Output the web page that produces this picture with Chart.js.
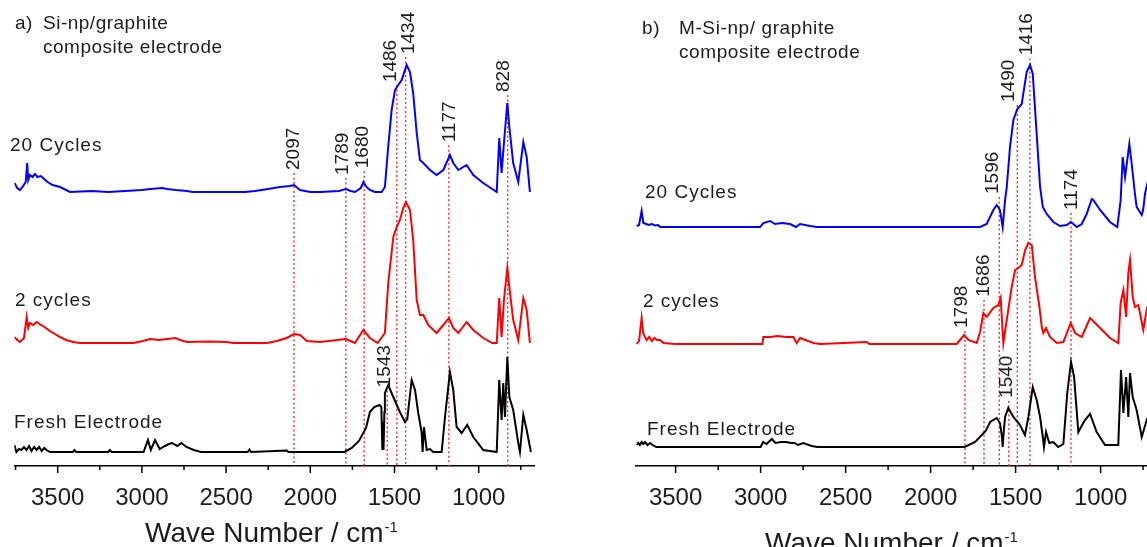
<!DOCTYPE html>
<html>
<head>
<meta charset="utf-8">
<title>FTIR spectra of Si-np/graphite electrodes</title>
<script src="https://cdn.jsdelivr.net/npm/chart.js@4.4.1/dist/chart.umd.min.js"></script>
<style>
  html, body { margin: 0; padding: 0; background: #fff; overflow: hidden; }
  #wrap { position: relative; width: 1147px; height: 547px; overflow: hidden; background: #fff; }
  canvas { position: absolute; top: 0; }
  #panelA { left: 0; }
  #panelB { left: 560px; }
</style>
</head>
<body>
<div id="wrap">
  <canvas id="panelA" width="560" height="547"></canvas>
  <canvas id="panelB" width="640" height="547"></canvas>
</div>
<script>
const FONT = '"Liberation Sans", Arial, sans-serif';
const INK = '#1c1c1c';

const seriesNames = ['20 Cycles', '2 cycles', 'Fresh Electrode'];
const seriesColors = ['#0000ff', '#ff0000', '#000000'];
const majorTicks = [3500, 3000, 2500, 2000, 1500, 1000];
const minorTicks = [3750, 3250, 2750, 2250, 1750, 1250, 750];

// ---- a) Si-np/graphite ----
const a20Wave = [3757, 3740, 3724, 3705, 3690, 3681, 3675, 3665, 3650, 3635,
  3620, 3600, 3587, 3560, 3530, 3486, 3450, 3427, 3300, 3200,
  3100, 3000, 2950, 2880, 2850, 2800, 2732, 2700, 2500, 2388,
  2329, 2250, 2180, 2120, 2097, 2061, 2000, 1943, 1830, 1789,
  1760, 1735, 1700, 1685, 1665, 1646, 1616, 1576, 1557, 1539,
  1517, 1497, 1478, 1457, 1428, 1408, 1389, 1368, 1349, 1329,
  1289, 1250, 1210, 1171, 1151, 1121, 1072, 1032, 973, 893,
  878, 864, 850, 830, 818, 795, 765, 735, 715, 696];
const a20Abs = [0.09, 0.04, 0.02, 0.06, 0.10, 0.29, 0.12, 0.17, 0.15, 0.18,
  0.15, 0.16, 0.14, 0.10, 0.07, 0.05, 0.02, 0.00, 0.01, 0.00,
  0.01, 0.02, 0.03, 0.04, 0.03, 0.02, 0.01, 0.00, 0.00, 0.00,
  0.01, 0.03, 0.05, 0.06, 0.07, 0.02, 0.00, 0.00, 0.01, 0.03,
  0.01, 0.00, 0.04, 0.10, 0.05, 0.02, 0.00, 0.00, 0.05, 0.42,
  0.82, 1.02, 1.07, 1.12, 1.27, 1.20, 0.99, 0.59, 0.32, 0.29,
  0.22, 0.17, 0.22, 0.37, 0.29, 0.22, 0.27, 0.17, 0.09, 0.00,
  0.54, 0.19, 0.49, 0.89, 0.65, 0.29, 0.10, 0.50, 0.35, 0.00];

const a2Wave = [3757, 3740, 3724, 3700, 3684, 3675, 3665, 3645, 3625, 3600,
  3587, 3546, 3486, 3450, 3409, 3368, 3050, 2994, 2952, 2900,
  2850, 2800, 2774, 2732, 2600, 2495, 2459, 2257, 2198, 2140,
  2097, 2061, 2020, 1943, 1789, 1735, 1685, 1646, 1600, 1557,
  1537, 1507, 1487, 1468, 1448, 1432, 1408, 1389, 1368, 1349,
  1329, 1300, 1250, 1210, 1177, 1151, 1121, 1072, 1032, 973,
  920, 893, 878, 864, 850, 830, 818, 795, 765, 735,
  715, 696];
const a2Abs = [0.06, 0.03, 0.01, 0.05, 0.26, 0.15, 0.20, 0.18, 0.21, 0.18,
  0.17, 0.12, 0.06, 0.03, 0.01, 0.00, 0.00, 0.02, 0.04, 0.03,
  0.04, 0.05, 0.03, 0.01, 0.015, 0.01, 0.00, 0.00, 0.02, 0.05,
  0.09, 0.08, 0.02, 0.01, 0.04, 0.00, 0.13, 0.05, 0.00, 0.10,
  0.60, 1.06, 1.16, 1.23, 1.35, 1.41, 1.33, 1.03, 0.43, 0.28,
  0.28, 0.18, 0.10, 0.18, 0.25, 0.15, 0.10, 0.21, 0.13, 0.05,
  0.00, 0.00, 0.45, 0.06, 0.43, 0.75, 0.56, 0.23, 0.03, 0.45,
  0.33, 0.00];

const aFreshWave = [3757, 3745, 3730, 3715, 3700, 3685, 3670, 3655, 3640, 3625,
  3610, 3595, 3580, 3566, 3546, 3410, 3400, 3390, 3200, 3190,
  3180, 2990, 2964, 2947, 2922, 2894, 2863, 2840, 2820, 2800,
  2788, 2766, 2750, 2735, 2692, 2649, 2372, 2361, 2352, 2139,
  2130, 2120, 1797, 1754, 1711, 1669, 1646, 1620, 1590, 1578,
  1572, 1568, 1565, 1560, 1557, 1537, 1507, 1468, 1438, 1424,
  1398, 1378, 1359, 1339, 1333, 1325, 1309, 1289, 1270, 1220,
  1200, 1171, 1151, 1131, 1101, 1068, 1032, 973, 893, 878,
  864, 854, 844, 830, 818, 795, 765, 755, 735, 715,
  690];
const aFreshAbs = [0.07, 0.00, 0.03, 0.02, 0.05, 0.02, 0.06, 0.01, 0.05, 0.02,
  0.05, 0.01, 0.04, 0.02, 0.00, 0.00, 0.02, 0.00, 0.00, 0.02,
  0.00, 0.00, 0.12, 0.02, 0.12, 0.03, 0.06, 0.08, 0.09, 0.07,
  0.06, 0.09, 0.07, 0.05, 0.02, 0.00, 0.00, 0.025, 0.00, 0.015,
  0.00, 0.00, 0.00, 0.04, 0.11, 0.24, 0.40, 0.45, 0.47, 0.45,
  0.02, 0.30, 0.02, 0.40, 0.59, 0.67, 0.55, 0.40, 0.30, 0.33,
  0.72, 0.62, 0.39, 0.20, 0.00, 0.25, 0.02, 0.03, 0.00, 0.00,
  0.35, 0.80, 0.62, 0.25, 0.19, 0.27, 0.15, 0.02, 0.00, 0.72,
  0.32, 0.69, 0.35, 0.95, 0.55, 0.42, 0.09, 0.00, 0.37, 0.22,
  0.00];

const peakWaveA = [2097, 1789, 1680, 1486, 1434, 1177, 828, 1543];
const peakOnA = [0, 0, 0, 0, 0, 0, 0, 2];

// ---- b) M-Si-np/graphite ----
const b20Wave = [3729, 3715, 3700, 3690, 3680, 3660, 3640, 3620, 3603, 3591,
  3003, 2984, 2944, 2915, 2876, 2827, 2792, 2768, 2709, 2670,
  1709, 1670, 1631, 1611, 1592, 1576, 1562, 1552, 1533, 1513,
  1490, 1464, 1435, 1415, 1399, 1376, 1356, 1340, 1317, 1278,
  1239, 1199, 1174, 1140, 1111, 1082, 1052, 1043, 1003, 945,
  902, 882, 870, 856, 831, 817, 798, 788, 758, 749,
  739, 727, 710, 690, 660];
const b20Abs = [0.01, 0.02, 0.16, 0.04, 0.035, 0.02, 0.03, 0.015, 0.02, 0.00,
  0.00, 0.04, 0.06, 0.03, 0.04, 0.03, 0.00, 0.03, 0.01, 0.00,
  0.00, 0.03, 0.17, 0.22, 0.17, 0.00, 0.27, 0.40, 0.80, 1.07,
  1.18, 1.23, 1.55, 1.62, 1.53, 0.93, 0.40, 0.20, 0.13, 0.05,
  0.01, 0.02, 0.05, 0.00, 0.03, 0.13, 0.28, 0.27, 0.17, 0.05,
  0.00, 0.27, 0.70, 0.50, 0.83, 0.63, 0.33, 0.20, 0.12, 0.18,
  0.33, 0.42, 0.35, 0.10, 0.00];

const b2Wave = [3729, 3715, 3700, 3691, 3680, 3670, 3655, 3640, 3625, 3610,
  3591, 3572, 3500, 2990, 2984, 2944, 2900, 2850, 2807, 2788,
  2768, 2690, 2650, 2376, 2360, 1846, 1827, 1803, 1778, 1729,
  1709, 1690, 1670, 1631, 1602, 1588, 1572, 1552, 1523, 1503,
  1484, 1464, 1444, 1425, 1405, 1386, 1360, 1346, 1337, 1321,
  1298, 1258, 1219, 1176, 1150, 1111, 1062, 1003, 945, 896,
  882, 866, 850, 837, 827, 811, 798, 778, 749, 729,
  710, 690, 660];
const b2Abs = [0.00, 0.03, 0.26, 0.11, 0.07, 0.04, 0.07, 0.03, 0.06, 0.04,
  0.04, 0.01, 0.00, 0.00, 0.07, 0.07, 0.08, 0.07, 0.07, 0.01,
  0.06, 0.01, 0.00, 0.02, 0.00, 0.00, 0.04, 0.09, 0.04, 0.01,
  0.12, 0.31, 0.27, 0.36, 0.39, 0.46, 0.01, 0.24, 0.57, 0.74,
  0.76, 0.79, 0.94, 1.01, 0.99, 0.67, 0.37, 0.17, 0.11, 0.16,
  0.07, 0.01, 0.02, 0.21, 0.11, 0.07, 0.26, 0.16, 0.06, 0.01,
  0.41, 0.54, 0.27, 0.71, 0.84, 0.47, 0.37, 0.39, 0.14, 0.34,
  0.25, 0.05, 0.00];

const bFreshWave = [3728, 3720, 3710, 3700, 3690, 3680, 3665, 3650, 3635, 3614,
  3000, 2985, 2965, 2934, 2913, 2880, 2852, 2820, 2800, 2780,
  2749, 2700, 2666, 1800, 1738, 1676, 1650, 1611, 1592, 1580,
  1576, 1570, 1562, 1543, 1513, 1474, 1445, 1425, 1399, 1376,
  1356, 1340, 1333, 1321, 1302, 1278, 1249, 1219, 1196, 1174,
  1156, 1131, 1092, 1062, 1023, 974, 896, 880, 866, 850,
  837, 827, 811, 788, 758, 729, 710, 690];
const bFreshAbs = [0.02, 0.04, 0.02, 0.05, 0.03, 0.05, 0.02, 0.04, 0.02, 0.00,
  0.00, 0.05, 0.03, 0.08, 0.04, 0.05, 0.05, 0.04, 0.04, 0.02,
  0.04, 0.01, 0.00, 0.00, 0.05, 0.16, 0.25, 0.29, 0.24, 0.10,
  0.00, 0.15, 0.30, 0.39, 0.30, 0.22, 0.12, 0.30, 0.60, 0.47,
  0.30, 0.10, 0.00, 0.15, 0.04, 0.05, 0.00, 0.03, 0.54, 0.85,
  0.70, 0.15, 0.27, 0.33, 0.15, 0.02, 0.02, 0.77, 0.34, 0.70,
  0.30, 0.74, 0.50, 0.37, 0.10, 0.27, 0.20, 0.02];

const peakWaveB = [1596, 1490, 1416, 1174, 1798, 1686, 1540];
const peakOnB = [0, 0, 0, 0, 1, 1, 2];

// spectra are stacked: each trace is shifted up by a constant for clarity
const offsetsA = [2.74, 1.23, 0.14];
const offsetsB = [2.39, 1.22, 0.19];

function toPoints(wave, abs, shift) {
  return wave.map((w, i) => ({ x: w, y: abs[i] + shift }));
}

function valueAt(pts, wn) {
  for (let i = 0; i < pts.length - 1; i++) {
    const a = pts[i], b = pts[i + 1];
    if ((a.x - wn) * (b.x - wn) <= 0) {
      const t = a.x === b.x ? 0 : (wn - a.x) / (b.x - a.x);
      return a.y + t * (b.y - a.y);
    }
  }
  return pts[pts.length - 1].y;
}

// outward tick marks on the wavenumber axis, minor ones shorter
const tickMarks = {
  id: 'tickMarks',
  afterDraw(chart) {
    const { ctx, scales: { x } } = chart;
    ctx.save();
    ctx.strokeStyle = '#000';
    ctx.lineWidth = 1.5;
    x.ticks.forEach(t => {
      const px = x.getPixelForValue(t.value);
      const len = majorTicks.includes(t.value) ? 7 : 4;
      ctx.beginPath();
      ctx.moveTo(px, x.top);
      ctx.lineTo(px, x.top + len);
      ctx.stroke();
    });
    ctx.restore();
  }
};

function peakGeometry(chart, opts) {
  const { scales: { x, y } } = chart;
  return opts.waves.map((wn, i) => {
    const pts = chart.data.datasets[opts.on[i]].data;
    const [dx, gap] = opts.nudge[i];
    const px = x.getPixelForValue(wn);
    const base = y.getPixelForValue(valueAt(pts, wn)) - gap;
    return { wn, px, lx: px + dx, base };
  });
}

// red dotted guide lines and rotated wavenumber labels
const peakMarks = {
  id: 'peakMarks',
  beforeDatasetsDraw(chart, args, opts) {
    const { ctx, chartArea } = chart;
    ctx.save();
    ctx.strokeStyle = '#ff2a2a';
    ctx.lineWidth = 1.4;
    ctx.setLineDash([2, 2.5]);
    peakGeometry(chart, opts).forEach(p => {
      ctx.beginPath();
      ctx.moveTo(p.px, p.base + 3);
      ctx.lineTo(p.px, chartArea.bottom);
      ctx.stroke();
    });
    ctx.restore();
  },
  afterDatasetsDraw(chart, args, opts) {
    const { ctx } = chart;
    ctx.save();
    ctx.fillStyle = INK;
    ctx.font = `19px ${FONT}`;
    ctx.textAlign = 'left';
    ctx.textBaseline = 'middle';
    peakGeometry(chart, opts).forEach(p => {
      ctx.save();
      ctx.translate(p.lx, p.base);
      ctx.rotate(-Math.PI / 2);
      ctx.fillText(String(p.wn), 0, 0);
      ctx.restore();
    });
    ctx.restore();
  }
};

// panel captions, trace names and the axis title with its superscript
const textLayer = {
  id: 'textLayer',
  afterDraw(chart, args, opts) {
    const { ctx } = chart;
    ctx.save();
    ctx.fillStyle = INK;
    ctx.textBaseline = 'alphabetic';
    ctx.textAlign = 'left';
    opts.items.forEach(it => {
      ctx.font = `${it.size || 19}px ${FONT}`;
      ctx.letterSpacing = (it.spacing || 0) + 'px';
      ctx.fillText(it.text, it.x, it.y);
    });
    ctx.letterSpacing = '0px';
    const t = opts.axisTitle;
    ctx.font = `28px ${FONT}`;
    ctx.fillText('Wave Number / cm', t.x, t.y);
    const w = ctx.measureText('Wave Number / cm').width;
    ctx.font = `15px ${FONT}`;
    ctx.fillText('-1', t.x + w + 1, t.y - 10);
    ctx.restore();
  }
};

function makePanel(id, p) {
  const datasets = p.series.map((s, i) => ({
    label: seriesNames[i],
    data: toPoints(s[0], s[1], p.offsets[i]),
    borderColor: seriesColors[i],
    borderWidth: 2,
    pointRadius: 0,
    tension: 0,
    fill: false
  }));
  const allTicks = majorTicks.concat(minorTicks)
    .filter(v => v >= p.xMin && v <= p.xMax)
    .sort((a, b) => a - b);

  return new Chart(document.getElementById(id), {
    type: 'line',
    data: { datasets },
    options: {
      responsive: false,
      animation: false,
      devicePixelRatio: 1,
      layout: { padding: { left: p.padLeft, right: p.padRight, top: 0, bottom: 17 } },
      scales: {
        x: {
          type: 'linear',
          reverse: true,
          min: p.xMin,
          max: p.xMax,
          afterBuildTicks: axis => { axis.ticks = allTicks.map(v => ({ value: v })); },
          grid: { display: false, drawTicks: false },
          border: { display: true, color: '#000', width: 1.5 },
          ticks: {
            autoSkip: false,
            maxRotation: 0,
            minRotation: 0,
            padding: 20,
            color: INK,
            font: { family: FONT, size: 24, lineHeight: 1 },
            callback: v => majorTicks.includes(v) ? String(v) : ''
          }
        },
        y: { display: false, min: 0, max: 4.66 }
      },
      plugins: {
        legend: { display: false },
        tooltip: { enabled: false },
        peakMarks: p.peaks,
        textLayer: { items: p.texts, axisTitle: p.axisTitle }
      }
    },
    plugins: [tickMarks, peakMarks, textLayer]
  });
}

makePanel('panelA', {
  series: [[a20Wave, a20Abs], [a2Wave, a2Abs], [aFreshWave, aFreshAbs]],
  offsets: offsetsA,
  xMin: 668, xMax: 3757,
  padLeft: 14.4, padRight: 25.4,
  peaks: {
    waves: peakWaveA,
    on: peakOnA,
    nudge: [[0, 15], [-3.4, 14], [-1, 15], [-6, 5], [3, 14], [1, 15], [-3.7, 15], [-2, 0]]
  },
  texts: [
    { text: 'a)', x: 15, y: 29, spacing: 0.5 },
    { text: 'Si-np/graphite', x: 43, y: 29, spacing: 0.5 },
    { text: 'composite electrode', x: 43, y: 53, spacing: 0.5 },
    { text: seriesNames[0], x: 10, y: 151, spacing: 1 },
    { text: seriesNames[1], x: 15, y: 306, spacing: 1 },
    { text: seriesNames[2], x: 14, y: 428, spacing: 1 }
  ],
  axisTitle: { x: 145, y: 542 }
});

makePanel('panelB', {
  series: [[b20Wave, b20Abs], [b2Wave, b2Abs], [bFreshWave, bFreshAbs]],
  offsets: offsetsB,
  xMin: 560, xMax: 3733,
  padLeft: 76, padRight: 24.6,
  peaks: {
    waves: peakWaveB,
    on: peakOnB,
    nudge: [[-7, 15], [-9, 7], [-3, 10], [1, 12], [-3, 8], [0, 17], [-2, 11]]
  },
  texts: [
    { text: 'b)', x: 82, y: 34, spacing: 0.6 },
    { text: 'M-Si-np/ graphite', x: 119, y: 34, spacing: 0.6 },
    { text: 'composite electrode', x: 119, y: 58, spacing: 0.6 },
    { text: seriesNames[0], x: 85, y: 198, spacing: 1 },
    { text: seriesNames[1], x: 83, y: 307, spacing: 1 },
    { text: seriesNames[2], x: 87, y: 435, spacing: 1 }
  ],
  axisTitle: { x: 205, y: 552 }
});
</script>
</body>
</html>
